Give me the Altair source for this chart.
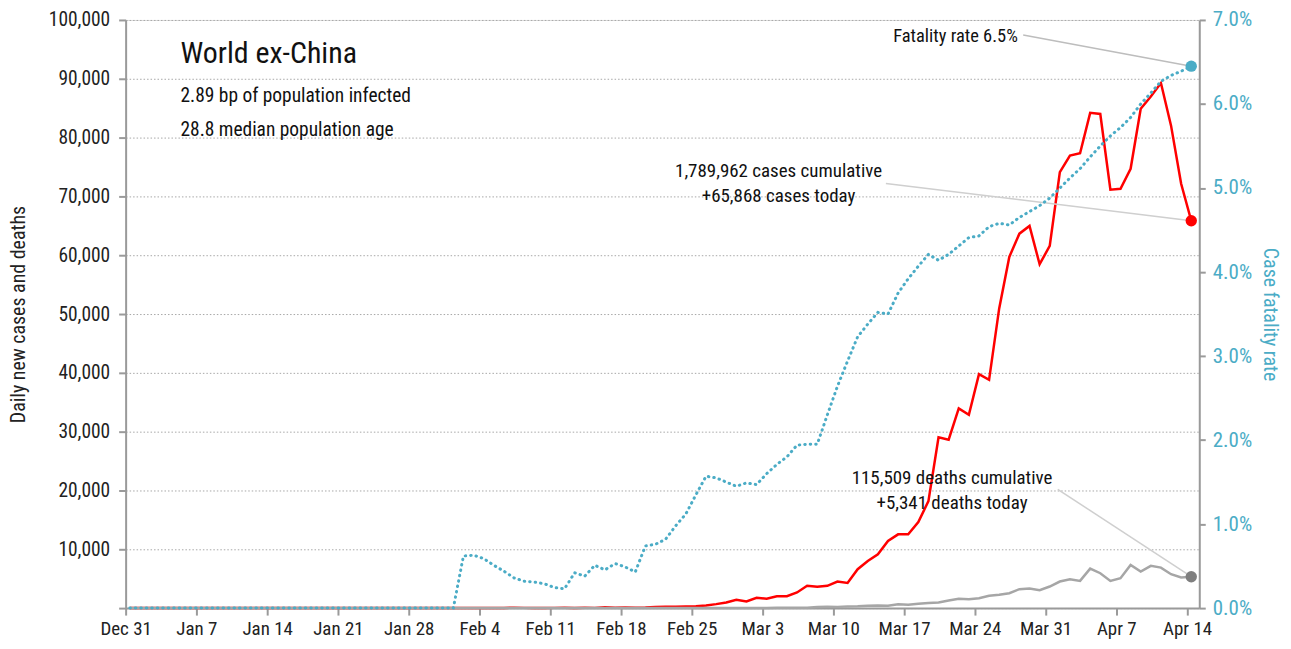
import altair as alt
import pandas as pd

# ---------------- data ----------------
start_date = "2019-12-31"
n_days = 106

daily_cases = [
    0, 0, 0, 0, 0, 0, 0, 0, 0, 0, 0, 0, 0,
    1, 0, 0, 1, 0, 1, 1, 2,
    3, 5, 3, 6, 10, 12, 8, 15, 20, 18, 25,
    20, 15, 18, 25, 30, 28, 60, 40, 25, 30, 40, 50, 35, 55, 40, 130,
    60, 90, 80, 120, 200, 240, 250, 280,
    300, 450, 680, 960, 1410, 1130, 1750, 1580, 2030, 2030, 2660, 3790, 3620, 3790,
    4520, 4290, 6610, 8020, 9150, 11410, 12540, 12540, 14630, 18190,
    29040, 28640, 33950, 32880, 39780, 38810, 50960, 59710, 63670, 64970,
    58470, 61580, 74120, 76950, 77340, 84200, 84010, 71130, 71300, 74690,
    84900, 87000, 89270, 82030, 72150, 65868,
]

daily_deaths = [0] * 32 + [
    1, 0, 0, 0, 0, 0, 0, 0, 0, 0, 0, 0, 0, 1, 1, 0, 1, 0, 2, 1, 5, 6, 5, 8,
    11, 12, 12, 14, 13, 20, 28, 30, 48, 45, 60, 70, 180, 230,
    210, 270, 320, 410, 450, 420, 650, 560, 750, 850,
    960, 1300, 1580, 1520, 1690, 2090, 2260, 2540, 3220, 3330,
    3050, 3670, 4520, 4910, 4630, 6720, 5930, 4630, 5080, 7340,
    6210, 7180, 6890, 5760, 5200, 5341,
]

fatality_rate = [0.0] * 33 + [
    0.62, 0.63, 0.59, 0.51, 0.44, 0.36, 0.32, 0.31, 0.29, 0.245, 0.23,
    0.42, 0.38, 0.51, 0.455, 0.53, 0.49, 0.43, 0.74, 0.76, 0.82, 0.98, 1.12,
    1.35, 1.57, 1.55, 1.50, 1.45, 1.49, 1.47, 1.60, 1.71, 1.80, 1.94, 1.95,
    1.95, 2.30, 2.64, 2.94, 3.23, 3.38, 3.52, 3.50, 3.75, 3.92, 4.07, 4.21,
    4.14, 4.21, 4.31, 4.41, 4.43, 4.54, 4.58, 4.56, 4.65, 4.72, 4.79, 4.88,
    5.00, 5.12, 5.23, 5.37, 5.50, 5.62, 5.72, 5.84, 6.00, 6.13, 6.27, 6.34,
    6.39, 6.45,
]

x_tick_dates = ["2019-12-31", "2020-01-07", "2020-01-14", "2020-01-21", "2020-01-28",
                "2020-02-04", "2020-02-11", "2020-02-18", "2020-02-25", "2020-03-03",
                "2020-03-10", "2020-03-17", "2020-03-24", "2020-03-31", "2020-04-07",
                "2020-04-14"]
left_ticks = [0, 10000, 20000, 30000, 40000, 50000, 60000, 70000, 80000, 90000, 100000]
right_ticks = [0, 1, 2, 3, 4, 5, 6, 7]

title_text = "World ex-China"
subtitle_lines = ["2.89 bp of population infected", "28.8 median population age"]
fatality_label = "Fatality rate 6.5%"
cases_labels = ["1,789,962 cases cumulative", "+65,868 cases today"]
deaths_labels = ["115,509 deaths cumulative", "+5,341 deaths today"]

# annotation leader start points (in data space)
cases_leader_start = ("2020-03-15T05:00:00", 72200)
deaths_leader_start = ("2020-04-01T05:00:00", 20200)
fatality_leader_start = ("2020-03-28T19:00:00", 6.82)

# ---------------- build tables ----------------
dates = pd.date_range(start_date + " 10:00:00", periods=n_days, freq="D")
date_str = [d.strftime("%Y-%m-%dT%H:%M:%S") for d in dates]
df = pd.DataFrame({
    "date": date_str,
    "cases": daily_cases,
    "deaths": daily_deaths,
    "cfr": fatality_rate,
})
last = df.iloc[[-1]]

leaders_left = pd.DataFrame({
    "x1": [cases_leader_start[0], deaths_leader_start[0]],
    "y1": [cases_leader_start[1], deaths_leader_start[1]],
    "x2": [date_str[-1], date_str[-1]],
    "y2": [daily_cases[-1], daily_deaths[-1]],
})
leader_right = pd.DataFrame({
    "x1": [fatality_leader_start[0]],
    "y1": [fatality_leader_start[1]],
    "x2": [date_str[-1]],
    "y2": [fatality_rate[-1]],
})

FONT = "Roboto Condensed, Liberation Sans Narrow, DejaVu Sans Condensed, Roboto, sans-serif"
BLUE = "#4bacc6"
AXIS_GREY = "#9a9a9a"

x_scale = alt.Scale(domain=[alt.DateTime(year=2019, month=12, date=31),
                            alt.DateTime(year=2020, month=4, date=15, hours=5)])
x_tick_values = [alt.DateTime(year=int(s[:4]), month=int(s[5:7]), date=int(s[8:10]))
                 for s in x_tick_dates]

x_enc = alt.X("date:T", scale=x_scale,
              axis=alt.Axis(values=x_tick_values, format="%b %-d", title=None,
                            grid=False, labelFontSize=19, labelColor="#222",
                            labelFont=FONT, tickSize=7, tickColor=AXIS_GREY,
                            domainColor=AXIS_GREY, domainWidth=2, tickWidth=2,
                            labelPadding=4, labelFlush=False))

left_y_scale = alt.Scale(domain=[0, 100000], nice=False)
left_axis = alt.Axis(values=left_ticks, orient="left",
                     labelExpr="datum.value == 0 ? '' : format(datum.value, ',')",
                     title="Daily new cases and deaths", titleFont=FONT,
                     titleFontSize=20, titleFontWeight="normal", titleColor="#222",
                     titlePadding=20, labelFont=FONT, labelFontSize=19.5,
                     labelColor="#222", tickSize=7, tickColor=AXIS_GREY, tickWidth=2,
                     domainColor=AXIS_GREY, domainWidth=2, labelPadding=9,
                     grid=True, gridColor="#a8a8a8", gridDash=[1.5, 2], gridWidth=1)

base = alt.Chart(df)

cases_line = base.mark_line(color="#ff0000", strokeWidth=2.5).encode(
    x=x_enc, y=alt.Y("cases:Q", scale=left_y_scale, axis=left_axis))
deaths_line = base.mark_line(color="#a6a6a6", strokeWidth=2.5).encode(
    x="date:T", y=alt.Y("deaths:Q", scale=left_y_scale))

cases_dot = alt.Chart(last).mark_circle(color="#ff0000", size=130, opacity=1).encode(
    x="date:T", y=alt.Y("cases:Q", scale=left_y_scale))
deaths_dot = alt.Chart(last).mark_circle(color="#7f7f7f", size=130, opacity=1).encode(
    x="date:T", y=alt.Y("deaths:Q", scale=left_y_scale))

leaders_l = alt.Chart(leaders_left).mark_rule(color="#cfcfcf", strokeWidth=1.5).encode(
    x="x1:T", x2="x2:T", y=alt.Y("y1:Q", scale=left_y_scale), y2="y2:Q")

text_common = dict(font=FONT, color="#111")
title_mark = alt.Chart(pd.DataFrame({"t": [title_text]})).mark_text(
    align="left", baseline="middle", fontSize=30, **text_common).encode(
    x=alt.value(55), y=alt.value(34), text="t:N")
sub1 = alt.Chart(pd.DataFrame({"t": [subtitle_lines[0]]})).mark_text(
    align="left", baseline="middle", fontSize=19.5, **text_common).encode(
    x=alt.value(55), y=alt.value(76), text="t:N")
sub2 = alt.Chart(pd.DataFrame({"t": [subtitle_lines[1]]})).mark_text(
    align="left", baseline="middle", fontSize=19.5, **text_common).encode(
    x=alt.value(55), y=alt.value(110), text="t:N")

cases_t1 = alt.Chart(pd.DataFrame({"t": [cases_labels[0]]})).mark_text(
    align="center", baseline="middle", fontSize=19, **text_common).encode(
    x=alt.value(655), y=alt.value(152), text="t:N")
cases_t2 = alt.Chart(pd.DataFrame({"t": [cases_labels[1]]})).mark_text(
    align="center", baseline="middle", fontSize=19, **text_common).encode(
    x=alt.value(655), y=alt.value(177), text="t:N")
deaths_t1 = alt.Chart(pd.DataFrame({"t": [deaths_labels[0]]})).mark_text(
    align="center", baseline="middle", fontSize=19, **text_common).encode(
    x=alt.value(829), y=alt.value(460), text="t:N")
deaths_t2 = alt.Chart(pd.DataFrame({"t": [deaths_labels[1]]})).mark_text(
    align="center", baseline="middle", fontSize=19, **text_common).encode(
    x=alt.value(829), y=alt.value(485), text="t:N")
fat_t = alt.Chart(pd.DataFrame({"t": [fatality_label]})).mark_text(
    align="right", baseline="middle", fontSize=18.5, **text_common).encode(
    x=alt.value(895), y=alt.value(16), text="t:N")

left_layer = alt.layer(cases_line, deaths_line, leaders_l, cases_dot, deaths_dot,
                       title_mark, sub1, sub2, cases_t1, cases_t2,
                       deaths_t1, deaths_t2, fat_t)

right_y_scale = alt.Scale(domain=[0, 7], nice=False)
right_axis = alt.Axis(values=right_ticks, orient="right",
                      labelExpr="format(datum.value, '.1f') + '%'",
                      title="Case fatality rate", titleFont=FONT, titleFontSize=20,
                      titleFontWeight="normal", titleColor=BLUE, titlePadding=8,
                      labelFont=FONT, labelFontSize=21, labelColor=BLUE,
                      tickSize=6, tickColor=AXIS_GREY, tickWidth=2,
                      domainColor=AXIS_GREY, domainWidth=2, labelPadding=7,
                      grid=False)

cfr_line = base.mark_line(color=BLUE, strokeWidth=3, strokeDash=[0.5, 5],
                          strokeCap="round").encode(
    x="date:T", y=alt.Y("cfr:Q", scale=right_y_scale, axis=right_axis))
leader_r = alt.Chart(leader_right).mark_rule(color="#bdbdbd", strokeWidth=1.5).encode(
    x="x1:T", x2="x2:T", y=alt.Y("y1:Q", scale=right_y_scale), y2="y2:Q")
cfr_dot = alt.Chart(last).mark_circle(color=BLUE, size=130, opacity=1).encode(
    x="date:T", y=alt.Y("cfr:Q", scale=right_y_scale))

right_layer = alt.layer(cfr_line, leader_r, cfr_dot)

chart = alt.layer(left_layer, right_layer).resolve_scale(y="independent").properties(
    width=1077, height=590,
    autosize=alt.AutoSizeParams(type="none"),
    padding={"left": 118, "top": 11, "right": 84, "bottom": 32},
).configure_view(stroke=None).configure(background="white")

chart.save("out.html", embed_options={"renderer": "svg", "actions": False})
